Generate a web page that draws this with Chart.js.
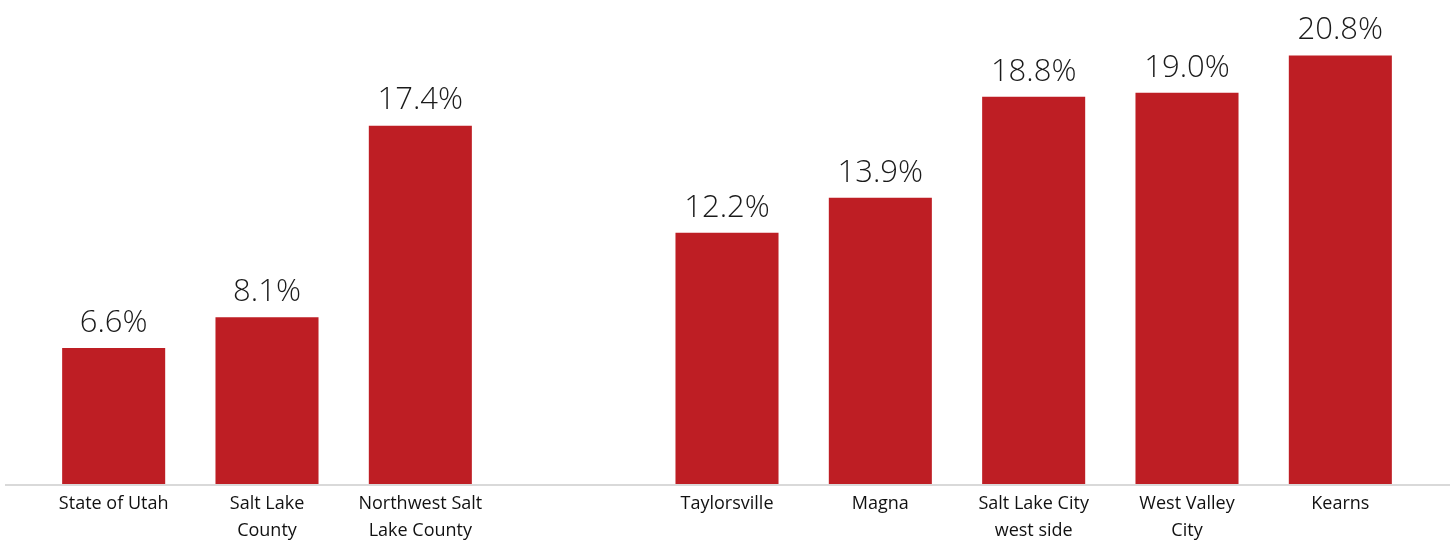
<!DOCTYPE html>
<html>
<head>
<meta charset="utf-8">
<script src="https://cdn.jsdelivr.net/npm/chart.js@4"></script>
<style>
  body { margin: 0; background: #fff; }
  #chart { display: block; }
</style>
</head>
<body>
<canvas id="chart" width="1451" height="540"></canvas>
<script>
// Categories (empty slot separates the county group from the cities)
const categories = [
  "State of Utah",
  ["Salt Lake", "County"],
  ["Northwest Salt", "Lake County"],
  "",
  "Taylorsville",
  "Magna",
  ["Salt Lake City", "west side"],
  ["West Valley", "City"],
  "Kearns"
];
const values = [6.6, 8.1, 17.4, null, 12.2, 13.9, 18.8, 19.0, 20.8];

const barColor = "#BE1E24";

// Draw the value labels above each bar
const valueLabels = {
  id: "valueLabels",
  afterDatasetsDraw(chart) {
    const ctx = chart.ctx;
    const meta = chart.getDatasetMeta(0);
    ctx.save();
    ctx.font = "300 31px 'Open Sans'";
    ctx.fillStyle = "#1a1a1a";
    ctx.textAlign = "center";
    ctx.textBaseline = "middle";
    meta.data.forEach((bar, i) => {
      if (values[i] == null) return;
      ctx.fillText(values[i].toFixed(1) + "%", bar.x, bar.y - 25);
    });
    ctx.restore();
  }
};

// Light gray baseline that runs wider than the plot area
const baseline = {
  id: "baseline",
  afterDatasetsDraw(chart) {
    const ctx = chart.ctx;
    const y = chart.scales.y.getPixelForValue(0);
    ctx.save();
    ctx.strokeStyle = "#d9d9d9";
    ctx.lineWidth = 2;
    ctx.beginPath();
    ctx.moveTo(5, y + 1);
    ctx.lineTo(1450, y + 1);
    ctx.stroke();
    ctx.restore();
  }
};

const ctx = document.getElementById("chart").getContext("2d");
new Chart(ctx, {
  type: "bar",
  data: {
    labels: categories,
    datasets: [{
      data: values,
      backgroundColor: barColor,
      borderWidth: 0,
      categoryPercentage: 1,
      barPercentage: 0.672
    }]
  },
  options: {
    responsive: false,
    animation: false,
    layout: { padding: { left: 37, right: 34, top: 0, bottom: 0 } },
    plugins: {
      legend: { display: false },
      tooltip: { enabled: false }
    },
    scales: {
      x: {
        grid: { display: false, drawTicks: false },
        border: { display: false },
        ticks: {
          padding: 6,
          color: "#111",
          maxRotation: 0,
          autoSkip: false,
          font: { family: "'Open Sans'", size: 18, lineHeight: 1.5 }
        },
        afterFit(scale) { scale.height = 56; }
      },
      y: {
        display: false,
        min: 0,
        max: 23.5
      }
    }
  },
  plugins: [valueLabels, baseline]
});
</script>
</body>
</html>
